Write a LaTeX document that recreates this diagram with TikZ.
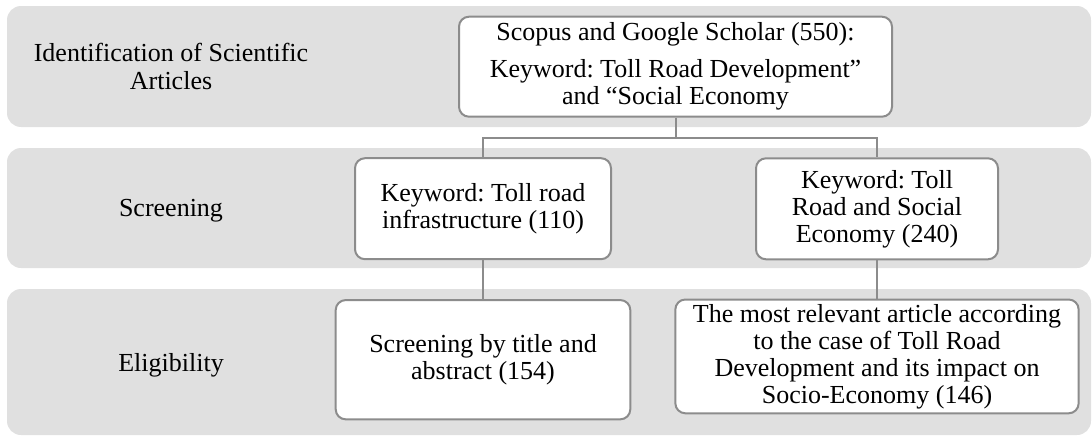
\documentclass[tikz,border=0pt]{standalone}
\usepackage{fontspec}
\setmainfont{Liberation Serif}
\frenchspacing
\definecolor{bandgrey}{RGB}{224,224,224}
\definecolor{edgegrey}{RGB}{140,140,140}
\begin{document}
\begin{tikzpicture}[x=1pt,y=-1pt,
  band/.style={fill=bandgrey, rounded corners=14pt},
  stepbox/.style={draw=edgegrey, line width=2pt, fill=white, rounded corners=10pt,
    align=center, inner sep=0pt, font=\fontsize{26}{27}\selectfont},
  phase/.style={align=center, font=\fontsize{26}{28}\selectfont},
  link/.style={draw=edgegrey, line width=2pt}]
\useasboundingbox (0,0) rectangle (1092,439);

% phase bands
\fill[band] (7,6) rectangle (1091,127);
\fill[band] (7,148) rectangle (1091,268);
\fill[band] (7,289) rectangle (1091,435);

% phase labels
\node[phase] (ph1) at (171,66.5) {Identification of Scientific\\Articles};
\node[phase, anchor=base] (ph2) at (171,216.5) {Screening};
\node[phase, anchor=base] (ph3) at (171,371) {Eligibility};

% review steps
\node[stepbox, minimum width=433pt, minimum height=100pt] (src) at (675.5,66.7)
  {Scopus and Google Scholar (550):\\[10pt]Keyword: Toll Road Development”\\and “Social Economy};
\node[stepbox, minimum width=256pt, minimum height=101pt] (kw1) at (483,208.7)
  {Keyword: Toll road\\infrastructure (110)};
\node[stepbox, minimum width=242pt, minimum height=101pt] (kw2) at (877,208.8)
  {Keyword: Toll\\Road and Social\\Economy (240)};
\node[stepbox, minimum width=294.6pt, minimum height=119.3pt] (el1) at (483,359.7)
  {Screening by title and\\abstract (154)};
\node[stepbox, minimum width=403.3pt, minimum height=113.8pt] (el2) at (877,356.4)
  {The most relevant article according\\to the case of Toll Road\\Development and its impact on\\Socio-Economy (146)};

% connectors
\coordinate (jl) at (483,137.7);
\coordinate (jr) at (877,137.7);
\draw[link] (src.south) -- (src.south |- jl);
\draw[link] (kw1.north) -- (jl) -- (jr) -- (kw2.north);
\draw[link] (kw1.south) -- (el1.north);
\draw[link] (kw2.south) -- (el2.north);
\end{tikzpicture}
\end{document}
